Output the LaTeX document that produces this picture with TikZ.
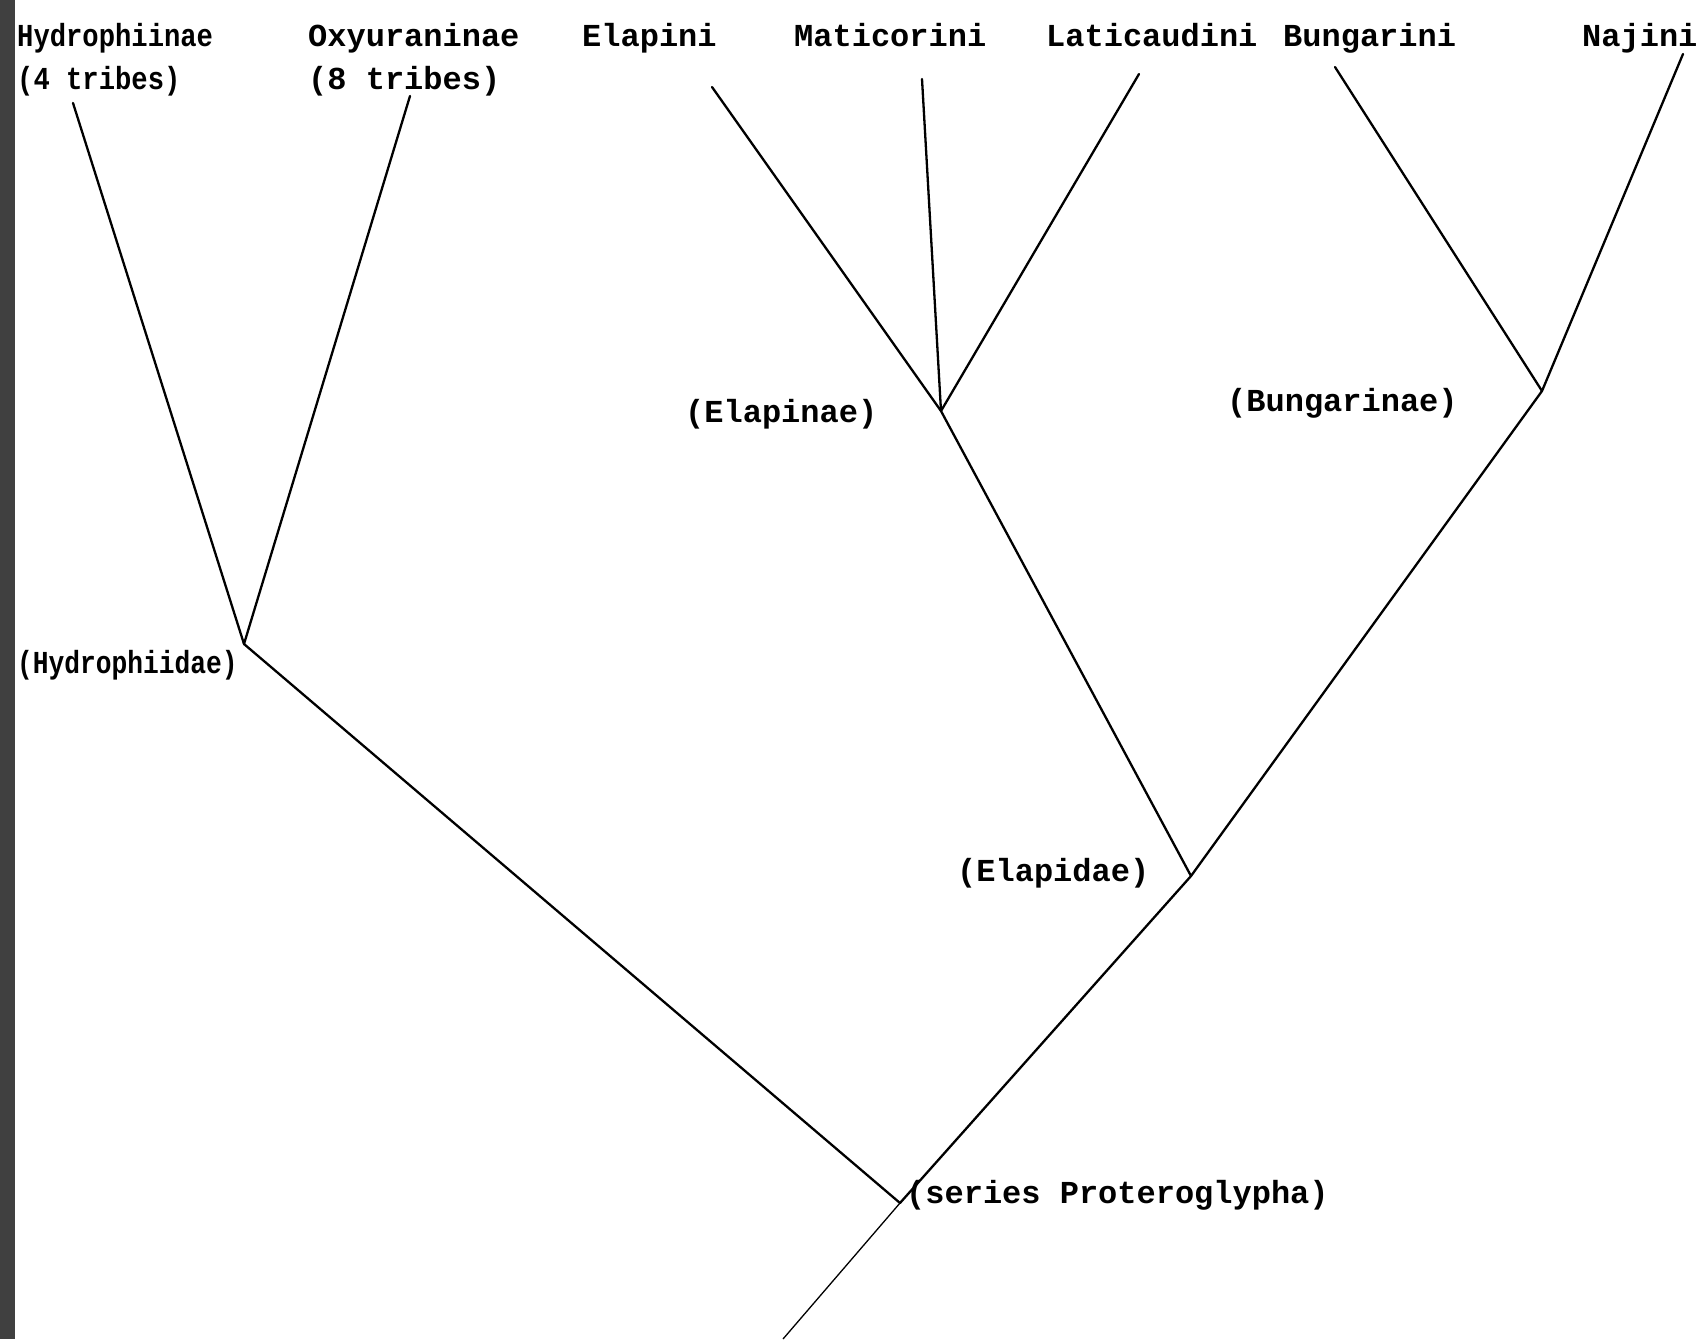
\documentclass[tikz,border=0pt]{standalone}
\usepackage{fontspec}
\setmonofont{Liberation Mono}
\usetikzlibrary{positioning}
\tikzstyle{taxon} = [inner sep=0pt, anchor=base west, font=\ttfamily\bfseries\fontsize{32}{38}\selectfont]
\tikzstyle{branch} = [line width=2.3pt, line cap=round]
\tikzstyle{stem} = [line width=1.3pt]

\begin{document}
\begin{tikzpicture}[x=1pt,y=-1pt]
		\useasboundingbox (0,0) rectangle (1705,1339);
		% dark edge of the scanned page
		\fill[black!75] (0,0) rectangle (15,1339);
		
		% tip labels
		\node[taxon] (hydn) at (17,46) {\scalebox{0.85}[1]{Hydrophiinae}};
		\node[taxon] (hydt) at ([yshift=-43pt]hydn.base west) {\scalebox{0.85}[1]{(4 tribes)}};
		\node[taxon] (oxyn) at (308,46) {Oxyuraninae};
		\node[taxon] (oxyt) at ([yshift=-43pt]oxyn.base west) {(8 tribes)};
		\node[taxon] (elapini) at (582,46) {Elapini};
		\node[taxon] (maticorini) at (794,46) {Maticorini};
		\node[taxon] (laticaudini) at (1046,46) {Laticaudini};
		\node[taxon] (bungarini) at (1283,46) {Bungarini};
		\node[taxon] (najini) at (1582,46) {Najini};
		
		% group labels
		\node[taxon] (lhydrophiidae) at (17,673) {\scalebox{0.82}[1]{(Hydrophiidae)}};
		\node[taxon] (lelapinae) at (685,422) {(Elapinae)};
		\node[taxon] (lbungarinae) at (1227,411) {(Bungarinae)};
		\node[taxon] (lelapidae) at (957,881) {(Elapidae)};
		\node[taxon] (lprotero) at (906,1203) {(series Proteroglypha)};
		
		% line ends under the tips
		\coordinate (thyd) at (73,103);
		\coordinate (toxy) at (410,96);
		\coordinate (telapini) at (712,87);
		\coordinate (tmaticorini) at (922,79);
		\coordinate (tlaticaudini) at (1139,74);
		\coordinate (tbungarini) at (1335,67);
		\coordinate (tnajini) at (1683,54);
		
		% branch points
		\coordinate (hydrophiidae) at (244,644);
		\coordinate (elapinae) at (941,411);
		\coordinate (bungarinae) at (1542,391);
		\coordinate (elapidae) at (1191,876);
		\coordinate (protero) at (900,1203);
		\coordinate (root) at (783,1339);
		
		\draw[branch] (thyd) -- (hydrophiidae);
		\draw[branch] (toxy) -- (hydrophiidae);
		\draw[branch] (telapini) -- (elapinae);
		\draw[branch] (tmaticorini) -- (elapinae);
		\draw[branch] (tlaticaudini) -- (elapinae);
		\draw[branch] (tbungarini) -- (bungarinae);
		\draw[branch] (tnajini) -- (bungarinae);
		\draw[branch] (elapinae) -- (elapidae);
		\draw[branch] (bungarinae) -- (elapidae);
		\draw[branch] (hydrophiidae) -- (protero);
		\draw[branch] (elapidae) -- (protero);
		\draw[stem] (protero) -- (root);
\end{tikzpicture}
\end{document}
